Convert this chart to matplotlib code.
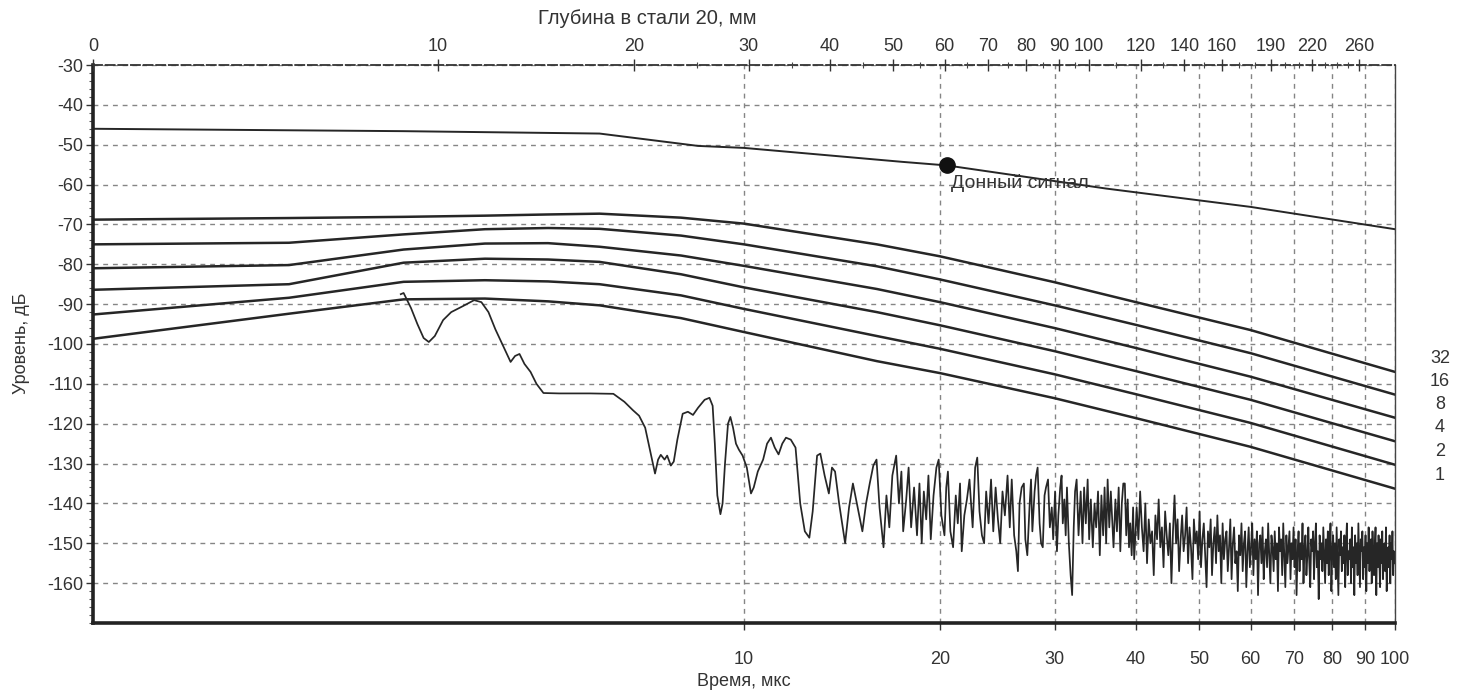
import numpy as np
import matplotlib
matplotlib.use('Agg')
import matplotlib.pyplot as plt
from matplotlib.ticker import FixedLocator, NullLocator, NullFormatter, MultipleLocator, FixedFormatter
import matplotlib.transforms as mtransforms

plt.rcParams['font.family'] = ['Liberation Sans', 'DejaVu Sans']
plt.rcParams['axes.unicode_minus'] = False

# ---------------- data ----------------
# DAC curves (reflector size labels)
dac_labels = ['32', '16', '8', '4', '2', '1']
dac_t = [1, 2, 3, 4, 5, 6, 8, 10, 16, 20, 30, 40, 60, 100]
dac_32 = [-68.8, -68.4, -68.1, -67.8, -67.5, -67.3, -68.3, -69.8, -75.0, -78.0, -84.5, -89.5, -96.5, -107.0]
dac_16 = [-75.0, -74.6, -72.5, -71.2, -70.9, -71.1, -72.8, -75.0, -80.5, -83.8, -90.3, -95.2, -102.3, -112.7]
dac_8 = [-81.0, -80.2, -76.3, -74.8, -74.7, -75.6, -77.8, -80.4, -86.2, -89.5, -96.0, -101.0, -108.2, -118.5]
dac_4 = [-86.4, -85.0, -79.6, -78.6, -78.8, -79.4, -82.5, -85.8, -92.0, -95.3, -101.8, -106.8, -114.0, -124.4]
dac_2 = [-92.6, -88.4, -84.4, -84.0, -84.3, -85.0, -87.8, -91.2, -98.0, -101.2, -107.6, -112.6, -119.8, -130.3]
dac_1 = [-98.7, -92.4, -88.8, -88.6, -89.3, -90.3, -93.5, -97.0, -104.3, -107.3, -113.6, -118.6, -125.8, -136.3]
dac_values = [dac_32, dac_16, dac_8, dac_4, dac_2, dac_1]

# back-wall signal curve
bw_t = [1, 3, 6, 8.5, 10, 17.5, 20.5, 36, 60, 100]
bw_db = [-46.0, -46.6, -47.2, -50.3, -50.8, -54.3, -55.2, -61.0, -65.6, -71.2]
bw_point_t = 20.5
bw_point_db = -55.2
bw_label = 'Донный сигнал'

# measured echo/noise trace, part A (explicit samples)
noise_a_t = [2.97, 3.0, 3.08, 3.15, 3.22, 3.28, 3.35, 3.45, 3.55, 3.7, 3.85, 3.95, 4.05, 4.15,
             4.28, 4.38, 4.45, 4.52, 4.6, 4.7, 4.8, 4.92, 5.2, 5.8, 6.3, 6.55, 6.75, 6.9, 7.05,
             7.2, 7.3, 7.38, 7.45, 7.55, 7.62, 7.72, 7.8, 7.9, 8.05, 8.2, 8.35, 8.5, 8.7, 8.85,
             8.95, 9.02, 9.1, 9.2, 9.27, 9.35, 9.45, 9.53, 9.62, 9.72, 9.82, 9.95, 10.1, 10.25,
             10.35, 10.5, 10.7, 10.85, 11.0, 11.15, 11.3, 11.45, 11.6, 11.8, 12.0, 12.2, 12.4,
             12.6, 12.75, 12.95, 13.1, 13.3, 13.5, 13.65, 13.8, 14.0, 14.3, 14.5, 14.7, 14.95,
             15.2, 15.4, 15.6, 15.8]
noise_a_db = [-87.5, -87.2, -91.0, -95.0, -98.5, -99.5, -98.0, -94.0, -92.0, -90.5, -89.0, -89.5,
              -92.0, -96.3, -101.0, -104.5, -103.0, -102.5, -105.0, -107.0, -110.0, -112.3, -112.4,
              -112.4, -112.5, -114.5, -116.6, -118.0, -121.0, -128.0, -132.5, -129.0, -127.8,
              -129.0, -128.0, -130.5, -129.5, -124.0, -117.5, -117.0, -117.8, -116.0, -114.0,
              -113.5, -115.5, -125.0, -138.0, -142.7, -140.0, -130.0, -120.0, -118.3, -121.0,
              -125.0, -126.5, -128.0, -131.0, -137.5, -136.0, -132.0, -129.0, -125.0, -123.5,
              -126.0, -127.7, -125.0, -123.5, -124.0, -126.0, -140.0, -147.0, -148.6, -142.0,
              -128.0, -127.5, -133.0, -137.5, -131.0, -132.0, -140.0, -150.0, -141.0, -135.0,
              -141.0, -147.0, -140.0, -135.0, -130.5]

# part B (explicit samples)
noise_b_t = [15.98, 16.15, 16.38, 16.55, 16.72, 16.9, 17.13, 17.3, 17.45, 17.56, 17.75, 17.9,
             18.06, 18.25, 18.44, 18.6, 18.75, 18.89, 19.05, 19.2, 19.36, 19.55, 19.75, 19.91,
             20.1, 20.32, 20.45, 20.57, 20.75, 20.95, 21.15, 21.3, 21.47, 21.6, 21.8, 22.0,
             22.2, 22.45, 22.65, 22.82, 23.0, 23.2, 23.38, 23.55, 23.75, 23.96, 24.15, 24.35,
             24.55, 24.75, 24.95, 25.16, 25.4, 25.6, 25.78, 26.0, 26.2, 26.35, 26.5, 26.7,
             26.91, 27.05, 27.24, 27.45, 27.6, 27.73, 27.95, 28.1, 28.25, 28.45, 28.6, 28.77,
             28.95, 29.1, 29.31, 29.5, 29.7, 29.85, 30.05, 30.25, 30.4, 30.6, 30.75, 30.88,
             31.05, 31.2, 31.34, 31.55, 31.75, 31.92, 32.1, 32.25, 32.43, 32.65, 32.9, 33.11,
             33.3, 33.5, 33.72, 33.9, 34.1, 34.34, 34.55, 34.75, 34.98, 35.2, 35.4, 35.62,
             35.8, 36.0, 36.19, 36.4, 36.6, 36.95, 37.2, 37.4, 37.63, 37.85, 38.05, 38.25,
             38.46, 38.65, 38.85, 39.03, 39.2, 39.4, 39.6, 39.75, 39.95]
noise_b_db = [-129, -141, -151, -138, -146, -133, -128, -140, -132, -147, -139, -131,
              -146, -136, -148, -135, -150, -137, -144, -133, -149, -138, -131, -129,
              -143, -148, -136, -132, -147, -151, -138, -145, -135, -152, -143, -139,
              -134, -146, -131, -128.5, -142, -148, -150, -137, -145, -134, -147, -136,
              -144, -150, -137, -143, -133, -146, -134, -148, -152, -157, -140, -136,
              -135, -149, -153, -141, -134, -147, -137, -133, -131, -145, -150, -151,
              -138, -136, -134, -146, -141, -149, -137, -152, -143, -136, -133, -145,
              -139, -148, -136, -150, -158, -163, -146, -137, -134, -148, -137, -150,
              -136, -145, -134, -149, -139, -151, -140, -146, -137, -153, -138, -148,
              -136, -150, -134, -146, -137, -151, -139, -147, -136, -152, -140, -135,
              -135, -148, -139, -151, -145, -153, -141, -154, -147]

# part C: uniformly sampled from 40.1 us, step 0.25 us
noise_c_start = 40.1
noise_c_step = 0.25
noise_c_db = [
    -141, -149, -137, -146, -152, -140, -155, -144, -150, -147,
    -158, -143, -149, -139, -151, -146, -156, -142, -148, -153,
    -145, -160, -147, -138, -150, -144, -157, -149, -143, -152,
    -148, -141, -155, -146, -151, -159, -144, -150, -147, -154,
    -142, -156, -149, -145, -153, -161, -147, -151, -144, -158,
    -150, -146, -155, -143, -152, -148, -160, -145, -154, -149,
    -147, -157, -151, -144, -159, -150, -146, -155, -152, -162,
    -148, -153, -145, -157, -150, -147, -161, -152, -146, -156,
    -151, -145, -158, -149, -154, -147, -163, -150, -148, -155,
    -146, -159, -152, -149, -156, -145, -153, -160, -148, -151,
    -157, -147, -154, -150, -162, -146, -152, -149, -158, -145,
    -153, -161, -148, -155, -151, -147, -159, -150, -154, -146,
    -156, -149, -163, -152, -147, -157, -150, -154, -145, -160,
    -151, -148, -158, -153, -146, -155, -161, -149, -152, -147,
    -159, -150, -145, -156, -152, -164, -148, -154, -150, -157,
    -146, -153, -160, -149, -155, -147, -158, -151, -145, -162,
    -152, -148, -156, -150, -159, -146, -154, -163, -149, -153,
    -147, -157, -151, -155, -148, -161, -150, -145, -158, -152,
    -154, -149, -160, -146, -156, -151, -163, -148, -155, -150,
    -158, -145, -153, -161, -149, -152, -147, -159, -151, -156,
    -148, -162, -150, -155, -146, -157, -152, -149, -160, -147,
    -153, -158, -151, -146, -163, -150, -156, -148, -154, -161,
    -149, -155, -147, -159, -152, -150, -157, -146, -162, -153,
    -151, -156, -148, -160, -150, -154, -147, -158, -152, -155]

# axes ticks
x_ticks = [10, 20, 30, 40, 50, 60, 70, 80, 90, 100]
y_ticks = list(range(-160, -29, 10))
depth_ticks = [0, 10, 20, 30, 40, 50, 60, 70, 80, 90, 100, 120, 140, 160, 190, 220, 260]
depth_minor = [25, 35, 45, 55, 65, 75, 85, 95, 110, 130, 150, 170, 180, 200, 210, 230, 240, 250]
sound_speed = 5.9  # mm/us, two-way travel

# ---------------- figure ----------------
W, H = 1471, 693
fig = plt.figure(figsize=(W / 100, H / 100), dpi=100)
L, R, T, B = 93, 1395, 65, 623
ax = fig.add_axes([L / W, 1 - B / H, (R - L) / W, (B - T) / H])
ax.set_xscale('log')
ax.set_xlim(1, 100)
ax.set_ylim(-170, -30)

line_col = '#262626'
grid_col = '#858585'
text_col = '#333333'
fs = 13

ax.grid(True, which='major', axis='both', linestyle=(0, (3.5, 3.5)), color=grid_col, lw=1.0)
ax.set_axisbelow(True)

for vals in dac_values:
    ax.plot(dac_t, vals, color=line_col, lw=1.8, solid_joinstyle='round')

ax.plot(bw_t, bw_db, color=line_col, lw=1.4)
ax.plot([bw_point_t], [bw_point_db], 'o', color='#111111', ms=11)
ax.text(bw_point_t * 1.015, bw_point_db - 4.4, bw_label, fontsize=14, ha='left', va='center',
        color=text_col)

noise_c_t = [noise_c_start + noise_c_step * i for i in range(len(noise_c_db))]
noise_t = noise_a_t + noise_b_t + noise_c_t
noise_db = noise_a_db + noise_b_db + noise_c_db
ax.plot(noise_t, noise_db, color=line_col, lw=1.25)

# right-hand labels
trans = mtransforms.blended_transform_factory(ax.transAxes, ax.transData)
for lab, vals in zip(dac_labels, dac_values):
    ax.text((1440 - L) / (R - L), vals[-1] + 3.4, lab, transform=trans, ha='center', va='center',
            fontsize=fs, color=text_col)

# axis formatting
ax.xaxis.set_major_locator(FixedLocator(x_ticks))
ax.xaxis.set_major_formatter(FixedFormatter([str(v) for v in x_ticks]))
ax.xaxis.set_minor_locator(NullLocator())
ax.yaxis.set_major_locator(FixedLocator(y_ticks))
ax.yaxis.set_minor_locator(MultipleLocator(2))
ax.tick_params(axis='both', which='major', labelsize=fs, colors=text_col, length=5, width=1)
ax.tick_params(axis='y', which='minor', length=3, width=0.8, colors='#555555')
ax.tick_params(axis='x', which='major', pad=15)
ax.tick_params(axis='y', which='major', pad=2)

for s in ['left', 'bottom']:
    ax.spines[s].set_linewidth(2.6)
    ax.spines[s].set_color('#222222')
ax.spines['right'].set_linewidth(1.0)
ax.spines['right'].set_color('#444444')
ax.spines['top'].set_linewidth(1.3)
ax.spines['top'].set_color('#333333')
ax.spines['top'].set_linestyle((0, (5, 2)))

# top depth axis
ax2 = ax.twiny()
ax2.set_xscale('log')
ax2.set_xlim(ax.get_xlim())
tpos = [max(2 * d / sound_speed, ax.get_xlim()[0]) for d in depth_ticks]
ax2.xaxis.set_major_locator(FixedLocator(tpos))
ax2.xaxis.set_major_formatter(FixedFormatter([str(d) for d in depth_ticks]))
ax2.xaxis.set_minor_locator(FixedLocator([2 * d / sound_speed for d in depth_minor]))
ax2.xaxis.set_minor_formatter(NullFormatter())
ax2.tick_params(axis='x', which='major', direction='inout', length=9, width=1, labelsize=fs,
                colors=text_col, pad=3)
ax2.tick_params(axis='x', which='minor', direction='inout', length=5, width=0.8, colors='#444444')
for s in ax2.spines.values():
    s.set_visible(False)

# titles
fig.text(647 / W, 1 - 19 / H, 'Глубина в стали 20, мм', ha='center', va='center', fontsize=14.5,
         color=text_col)
fig.text(744 / W, 1 - 682 / H, 'Время, мкс', ha='center', va='center', fontsize=fs,
         color=text_col)
fig.text(22 / W, 1 - 343 / H, 'Уровень, дБ', ha='center', va='center', rotation=90, fontsize=fs,
         color=text_col)

fig.savefig('out.png', dpi=100, facecolor='white')
